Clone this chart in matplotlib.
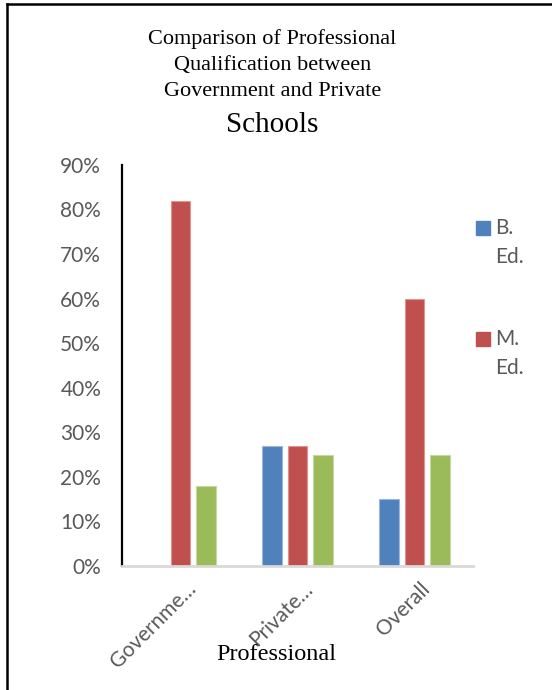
import matplotlib
matplotlib.use("Agg")
import matplotlib.pyplot as plt
from matplotlib.patches import Rectangle
from matplotlib.lines import Line2D
from matplotlib.ticker import PercentFormatter
from matplotlib.transforms import ScaledTranslation
import numpy as np

# school groups and the share of teachers holding each qualification
categories = ["Governme…", "Private…", "Overall"]
series_names = ["B.\nEd.", "M.\nEd.", "Other"]
b_ed = [0.0, 27.0, 15.0]
m_ed = [82.0, 27.0, 60.0]
other = [18.0, 25.0, 25.0]

colors = ["#4F81BD", "#C0504D", "#9BBB59"]
edges = ["#9DB6D9", "#DB9593", "#C6D8A2"]
SANS = ["Lato", "DejaVu Sans"]
SERIF = ["Liberation Serif", "DejaVu Serif"]
GREY = "#595959"

fig = plt.figure(figsize=(5.52, 6.9), dpi=100)
ax = fig.add_axes([0.221, 0.1797, 0.636, 0.5813])

x = np.arange(len(categories))
w = 0.17
step = 0.22
for i, (vals, c, ec) in enumerate(zip([b_ed, m_ed, other], colors, edges)):
    ax.bar(x + (i - 1) * step, np.array(vals) / 100.0, width=w,
           color=c, edgecolor=ec, linewidth=0.8, zorder=2)

ax.set_xlim(-0.5, len(categories) - 0.5)
ax.set_ylim(0, 0.9)
ax.set_yticks(np.arange(0, 0.91, 0.1))
ax.yaxis.set_major_formatter(PercentFormatter(1.0, decimals=0))
ax.set_xticks(x)
ax.set_xticklabels(categories, rotation=45, ha="right", va="center",
                   rotation_mode="anchor")

for lab in ax.get_yticklabels() + ax.get_xticklabels():
    lab.set_family(SANS)
    lab.set_color(GREY)
    lab.set_fontsize(15)
ax.tick_params(axis="y", length=0, pad=15)
ax.tick_params(axis="x", length=0, pad=14)
# nudge the slanted category names to the right of their tick
shift = ScaledTranslation(9 / 72, 0, fig.dpi_scale_trans)
for lab in ax.get_xticklabels():
    lab.set_transform(lab.get_transform() + shift)

for s in ["top", "right"]:
    ax.spines[s].set_visible(False)
ax.spines["left"].set_color("black")
ax.spines["left"].set_linewidth(1.6)
ax.spines["bottom"].set_color("#D9D9D9")
ax.spines["bottom"].set_linewidth(2)

# title block
title_lines = ["Comparison of Professional", "Qualification between",
               "Government and Private"]
for k, t in enumerate(title_lines):
    fig.text(0.493, 1 - (39 + 26.5 * k) / 690, t, ha="center", va="center",
             family=SERIF, fontsize=16, color="black")
fig.text(0.493, 1 - 125 / 690, "Schools", ha="center", va="center",
         family=SERIF, fontsize=21, color="black")

fig.text(0.501, 1 - 654 / 690, "Professional", ha="center", va="center",
         family=SERIF, fontsize=17.5, color="black")

# legend (only the first two entries fit)
for k in range(2):
    y0 = 228 + 111 * k
    fig.add_artist(Rectangle((476 / 552, 1 - (y0 + 7) / 690), 14 / 552, 14 / 690,
                             transform=fig.transFigure, color=colors[k]))
    fig.text(495 / 552, 1 - (y0 - 10) / 690, series_names[k], ha="left", va="top",
             family=SANS, fontsize=15, color=GREY, linespacing=1.55)

# outer frame, top and left edges
fig.add_artist(Line2D([7 / 552, 7 / 552], [0, 1 - 4 / 690], transform=fig.transFigure,
                      color="black", lw=1.8))
fig.add_artist(Line2D([7 / 552, 1], [1 - 4 / 690, 1 - 4 / 690], transform=fig.transFigure,
                      color="black", lw=1.8))

fig.savefig("out.png", dpi=100)
